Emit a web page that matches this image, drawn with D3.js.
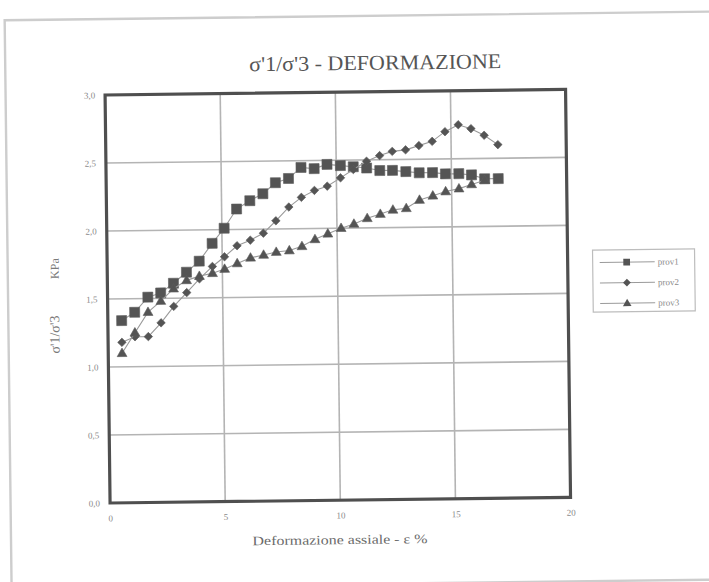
<!DOCTYPE html>
<html>
<head>
<meta charset="utf-8">
<script src="https://cdn.jsdelivr.net/npm/d3@7/dist/d3.min.js"></script>
<style>
  html, body { margin: 0; padding: 0; background: #ffffff; }
  svg { display: block; }
</style>
</head>
<body>
<svg id="chart" width="709" height="582"></svg>
<script>
// Axial strain (%) at each reading
const strain = [0.60, 1.17, 1.75, 2.31, 2.87, 3.44, 4.00, 4.57, 5.10, 5.65,
                6.23, 6.80, 7.35, 7.92, 8.47, 9.04, 9.60, 10.18, 10.74, 11.32,
                11.89, 12.44, 13.02, 13.60, 14.18, 14.74, 15.32, 15.87, 16.44, 17.03];

// Principal stress ratio σ'1/σ'3 for each specimen
const prov1 = [1.34, 1.40, 1.51, 1.54, 1.61, 1.69, 1.77, 1.90, 2.01, 2.15,
               2.21, 2.26, 2.34, 2.37, 2.45, 2.44, 2.47, 2.46, 2.45, 2.44,
               2.42, 2.42, 2.41, 2.40, 2.40, 2.39, 2.39, 2.38, 2.35, 2.35];
const prov2 = [1.18, 1.22, 1.22, 1.32, 1.44, 1.54, 1.64, 1.73, 1.80, 1.88,
               1.92, 1.97, 2.06, 2.16, 2.23, 2.28, 2.31, 2.37, 2.43, 2.49,
               2.53, 2.56, 2.57, 2.60, 2.63, 2.70, 2.75, 2.72, 2.67, 2.60];
const prov3 = [1.10, 1.25, 1.40, 1.48, 1.57, 1.63, 1.66, 1.68, 1.71, 1.75,
               1.79, 1.81, 1.83, 1.84, 1.87, 1.92, 1.96, 2.00, 2.03, 2.07,
               2.10, 2.13, 2.14, 2.20, 2.23, 2.26, 2.28, 2.31, 2.34];

const seriesNames = ["prov1", "prov2", "prov3"];
const seriesValues = [prov1, prov2, prov3];
const seriesMarkers = ["square", "diamond", "triangle"];

const xTicks = [0, 5, 10, 15, 20];
const yTicks = [0, 0.5, 1.0, 1.5, 2.0, 2.5, 3.0];

const titleText = "σ'1/σ'3 - DEFORMAZIONE";
const xTitle = "Deformazione assiale - ε %";
const yTitleMain = "σ'1/σ'3";
const yTitleUnit = "KPa";

const svg = d3.select("#chart");
const W = 709, H = 582;
const serif = "'Liberation Serif', 'DejaVu Serif', serif";

// whole sheet sits slightly askew on the page
const root = svg.append("g").attr("transform", "rotate(-0.7," + W / 2 + "," + H / 2 + ")");

// outer sheet border
root.append("rect")
  .attr("x", 8).attr("y", 16).attr("width", 730).attr("height", 568)
  .attr("fill", "none").attr("stroke", "#cdcdcd").attr("stroke-width", 2.4);

const plot = { left: 107.5, right: 568, top: 92, bottom: 500 };
const x = d3.scaleLinear().domain([0, 20]).range([plot.left, plot.right]);
const y = d3.scaleLinear().domain([0, 3]).range([plot.bottom, plot.top]);

// gridlines
const grid = root.append("g");
grid.selectAll("line.h").data(yTicks.filter(v => v > 0 && v < 3)).join("line")
  .attr("x1", plot.left).attr("x2", plot.right)
  .attr("y1", d => y(d)).attr("y2", d => y(d))
  .attr("stroke", "#b4b4b4").attr("stroke-width", 1.6);
grid.selectAll("line.v").data(xTicks.filter(v => v > 0 && v < 20)).join("line")
  .attr("y1", plot.top).attr("y2", plot.bottom)
  .attr("x1", d => x(d)).attr("x2", d => x(d))
  .attr("stroke", "#b4b4b4").attr("stroke-width", 1.6);

// axes (labels only, frame drawn separately)
const fmt = d => d3.format(".1f")(d).replace(".", ",");
const yAxis = root.append("g")
  .attr("transform", "translate(" + plot.left + ",0)")
  .call(d3.axisLeft(y).tickValues(yTicks).tickSize(0).tickPadding(10).tickFormat(fmt));
const xAxis = root.append("g")
  .attr("transform", "translate(0," + plot.bottom + ")")
  .call(d3.axisBottom(x).tickValues(xTicks).tickSize(0).tickPadding(12).tickFormat(d3.format("d")));
[xAxis, yAxis].forEach(a => {
  a.select(".domain").remove();
  a.selectAll("text").attr("fill", "#8a8a8a").attr("font-family", serif).attr("font-size", 9);
});

// plot frame
root.append("rect")
  .attr("x", plot.left).attr("y", plot.top)
  .attr("width", plot.right - plot.left).attr("height", plot.bottom - plot.top)
  .attr("fill", "none").attr("stroke", "#4f4f4f").attr("stroke-width", 3.2);

// marker shapes
function markerPath(kind) {
  if (kind === "square") return d3.symbol(d3.symbolSquare, 100)();
  if (kind === "diamond") return d3.symbol(d3.symbolSquare, 36)();
  return d3.symbol(d3.symbolTriangle, 42)();
}
function markerTransform(kind, px, py) {
  if (kind === "diamond") return "translate(" + px + "," + py + ") rotate(45)";
  if (kind === "triangle") return "translate(" + px + "," + (py + 0.5) + ")";
  return "translate(" + px + "," + py + ")";
}

const line = d3.line().x(d => x(d[0])).y(d => y(d[1]));

seriesValues.forEach((vals, i) => {
  const pts = vals.map((v, j) => [strain[j], v]);
  const g = root.append("g");
  g.append("path").datum(pts)
    .attr("d", line).attr("fill", "none")
    .attr("stroke", "#9a9a9a").attr("stroke-width", 1.1);
  g.selectAll("path.m").data(pts).join("path")
    .attr("d", markerPath(seriesMarkers[i]))
    .attr("transform", d => markerTransform(seriesMarkers[i], x(d[0]), y(d[1])))
    .attr("fill", "#545454")
    .attr("stroke", "#5c5c5c").attr("stroke-width", 0.6);
});

// title
root.append("text")
  .attr("x", 378).attr("y", 70)
  .attr("text-anchor", "middle")
  .attr("font-family", serif).attr("font-size", 21)
  .attr("fill", "#555555")
  .attr("textLength", 252).attr("lengthAdjust", "spacingAndGlyphs")
  .text(titleText);

// x axis title
root.append("text")
  .attr("x", 337).attr("y", 544)
  .attr("text-anchor", "middle")
  .attr("font-family", serif).attr("font-size", 13)
  .attr("fill", "#6a6a6a")
  .attr("textLength", 175).attr("lengthAdjust", "spacingAndGlyphs")
  .text(xTitle);

// y axis title
root.append("text")
  .attr("transform", "translate(59,331) rotate(-90)")
  .attr("text-anchor", "middle")
  .attr("font-family", serif).attr("font-size", 14)
  .attr("fill", "#7a7a7a")
  .text(yTitleMain);
root.append("text")
  .attr("transform", "translate(59,265) rotate(-90)")
  .attr("text-anchor", "middle")
  .attr("font-family", serif).attr("font-size", 12)
  .attr("fill", "#7a7a7a")
  .text(yTitleUnit);

// legend
const legend = root.append("g");
legend.append("rect")
  .attr("x", 593).attr("y", 253).attr("width", 102).attr("height", 62)
  .attr("fill", "#ffffff").attr("stroke", "#bdbdbd").attr("stroke-width", 1.2);
const legendY = d3.scalePoint().domain(seriesNames).range([265.5, 306.5]);
seriesNames.forEach((name, i) => {
  const ly = legendY(name);
  legend.append("line")
    .attr("x1", 600).attr("x2", 655).attr("y1", ly).attr("y2", ly)
    .attr("stroke", "#9a9a9a").attr("stroke-width", 1);
  const legendSize = { square: 45, diamond: 30, triangle: 32 }[seriesMarkers[i]];
  const legendShape = { square: d3.symbolSquare, diamond: d3.symbolSquare, triangle: d3.symbolTriangle }[seriesMarkers[i]];
  legend.append("path")
    .attr("d", d3.symbol(legendShape, legendSize)())
    .attr("transform", markerTransform(seriesMarkers[i], 627, ly))
    .attr("fill", "#545454");
  legend.append("text")
    .attr("x", 658).attr("y", ly + 3)
    .attr("font-family", serif).attr("font-size", 9)
    .attr("fill", "#8a8a8a")
    .text(name);
});
</script>
</body>
</html>
